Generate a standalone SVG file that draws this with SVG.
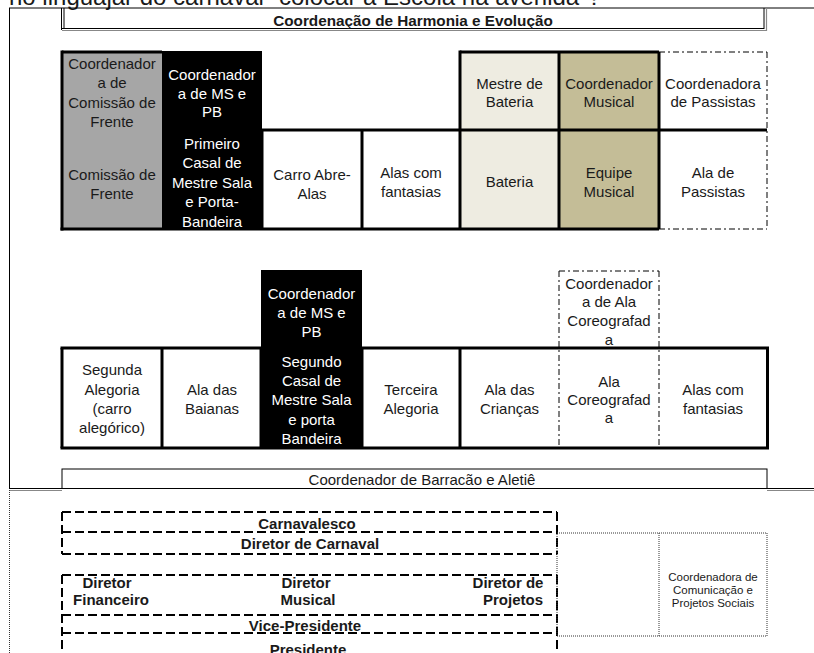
<svg xmlns="http://www.w3.org/2000/svg" width="814" height="653" viewBox="0 0 814 653">
<style>
text{font-family:"Liberation Sans",Arial,sans-serif;font-size:15px;fill:#1a1a1a;text-anchor:middle}
.w{fill:#ffffff}
.b{font-weight:bold}
.s{font-size:11.5px}
.thick{stroke:#000;stroke-width:3;fill:none}
.thin{stroke:#000;stroke-width:1;fill:none}
.dd{stroke:#000;stroke-width:1;fill:none;stroke-dasharray:6 3 2 3}
.dash{stroke:#000;stroke-width:2;fill:none;stroke-dasharray:9 4}
.dot{stroke:#333;stroke-width:1;fill:none;stroke-dasharray:1 1}
.gray{fill:#a6a6a6}
.blk{fill:#000}
.beige{fill:#eeece1}
.tan{fill:#c4bd97}
</style>
<rect width="814" height="653" fill="#fff"/>
<text x="9" y="5" style="font-size:24px;text-anchor:start">no linguajar do carnaval "colocar a Escola na avenida"?</text>

<g id="frame">
<line class="thin" x1="9" y1="8" x2="814" y2="8"/>
<line class="thin" x1="9.5" y1="8" x2="9.5" y2="489"/>
<line class="thin" x1="9" y1="488.5" x2="62" y2="488.5"/>
<line x1="9" y1="490.5" x2="62" y2="490.5" stroke="#888" stroke-width="1"/>
<line class="thin" x1="767" y1="488.5" x2="814" y2="488.5"/>
<line x1="767" y1="490.5" x2="814" y2="490.5" stroke="#888" stroke-width="1"/>
<line class="dot" x1="9.5" y1="490" x2="9.5" y2="653"/>
</g>

<g id="titulo-harmonia">
<line class="thin" x1="61.5" y1="8" x2="61.5" y2="30"/>
<line class="thin" x1="64" y1="8" x2="64" y2="28.5"/>
<line class="thin" x1="62" y1="28.5" x2="764" y2="28.5"/>
<line x1="62" y1="30.5" x2="767" y2="30.5" stroke="#888" stroke-width="1.2"/>
<line class="thin" x1="764" y1="8" x2="764" y2="29"/>
<line x1="766.5" y1="8" x2="766.5" y2="31" stroke="#888" stroke-width="1.2"/>
<text class="b" x="413" y="26" style="font-size:15.3px">Coordenação de Harmonia e Evolução</text>
</g>

<g id="top-fills">
<rect class="gray" x="62" y="52" width="100" height="177"/>
<rect class="blk" x="162" y="51" width="100" height="178"/>
<rect class="beige" x="460" y="52" width="99" height="177"/>
<rect class="tan" x="559" y="52" width="100" height="177"/>
</g>

<g id="coord-comissao">
<text x="112" y="68.5">Coordenador</text>
<text x="112" y="88">a de</text>
<text x="112" y="107.5">Comissão de</text>
<text x="112" y="127">Frente</text>
</g>
<g id="coord-mspb-1">
<text class="w" x="212" y="80">Coordenador</text>
<text class="w" x="212" y="98.5">a de MS e</text>
<text class="w" x="212" y="117">PB</text>
</g>
<g id="mestre-bateria">
<text x="509.5" y="88.5">Mestre de</text>
<text x="509.5" y="107">Bateria</text>
</g>
<g id="coord-musical">
<text x="609" y="88.5">Coordenador</text>
<text x="609" y="107">Musical</text>
</g>
<g id="coord-passistas">
<text x="713" y="88.5">Coordenadora</text>
<text x="713" y="107">de Passistas</text>
</g>
<g id="comissao-frente">
<text x="112" y="180">Comissão de</text>
<text x="112" y="198.5">Frente</text>
</g>
<g id="primeiro-casal">
<text class="w" x="212" y="148.5">Primeiro</text>
<text class="w" x="212" y="168">Casal de</text>
<text class="w" x="212" y="187.5">Mestre Sala</text>
<text class="w" x="212" y="207">e Porta-</text>
<text class="w" x="212" y="226.5">Bandeira</text>
</g>
<g id="carro-abre-alas">
<text x="312" y="180">Carro Abre-</text>
<text x="312" y="198.5">Alas</text>
</g>
<g id="alas-fantasias-1">
<text x="411" y="178">Alas com</text>
<text x="411" y="196.5">fantasias</text>
</g>
<g id="bateria">
<text x="509.5" y="187">Bateria</text>
</g>
<g id="equipe-musical">
<text x="609" y="178">Equipe</text>
<text x="609" y="196.5">Musical</text>
</g>
<g id="ala-passistas">
<text x="713" y="178">Ala de</text>
<text x="713" y="196.5">Passistas</text>
</g>

<g id="top-grid">
<line class="thick" x1="62" y1="50.5" x2="62" y2="230.5"/>
<line class="thick" x1="62" y1="52" x2="162" y2="52"/>
<line class="thick" x1="262" y1="130" x2="767" y2="130"/>
<line class="thick" x1="60.5" y1="229" x2="659" y2="229"/>
<line class="thick" x1="262" y1="130" x2="262" y2="229"/>
<line class="thick" x1="362" y1="130" x2="362" y2="229"/>
<line class="thick" x1="460" y1="50.5" x2="460" y2="229"/>
<line class="thick" x1="559" y1="52" x2="559" y2="229"/>
<line class="thick" x1="659" y1="52" x2="659" y2="229"/>
<line class="thick" x1="460" y1="52" x2="659" y2="52"/>
<line class="dd" x1="659" y1="52" x2="767" y2="52"/>
<line class="dd" x1="767" y1="52" x2="767" y2="229"/>
<line class="dd" x1="659" y1="229" x2="767" y2="229"/>
</g>

<g id="mid-fills">
<rect class="blk" x="261" y="270" width="101" height="178"/>
</g>
<g id="coord-mspb-2">
<text class="w" x="311.5" y="298.5">Coordenador</text>
<text class="w" x="311.5" y="318">a de MS e</text>
<text class="w" x="311.5" y="337">PB</text>
</g>
<g id="coord-ala-coreo">
<text x="609" y="288.5">Coordenador</text>
<text x="609" y="307">a de Ala</text>
<text x="609" y="326">Coreografad</text>
<text x="609" y="345">a</text>
</g>
<g id="segunda-alegoria">
<text x="112" y="375">Segunda</text>
<text x="112" y="395">Alegoria</text>
<text x="112" y="414">(carro</text>
<text x="112" y="433">alegórico)</text>
</g>
<g id="ala-baianas">
<text x="212" y="395">Ala das</text>
<text x="212" y="414">Baianas</text>
</g>
<g id="segundo-casal">
<text class="w" x="311.5" y="366.7">Segundo</text>
<text class="w" x="311.5" y="385.5">Casal de</text>
<text class="w" x="311.5" y="405">Mestre Sala</text>
<text class="w" x="311.5" y="424.5">e porta</text>
<text class="w" x="311.5" y="444">Bandeira</text>
</g>
<g id="terceira-alegoria">
<text x="411" y="395">Terceira</text>
<text x="411" y="413.5">Alegoria</text>
</g>
<g id="ala-criancas">
<text x="509.5" y="395">Ala das</text>
<text x="509.5" y="413.5">Crianças</text>
</g>
<g id="ala-coreo">
<text x="609" y="386.7">Ala</text>
<text x="609" y="405">Coreografad</text>
<text x="609" y="423">a</text>
</g>
<g id="alas-fantasias-2">
<text x="713" y="395">Alas com</text>
<text x="713" y="413.5">fantasias</text>
</g>

<g id="mid-grid">
<line class="thick" x1="60.5" y1="348" x2="769" y2="348"/>
<line class="thick" x1="60.5" y1="448" x2="769" y2="448"/>
<line class="thick" x1="62" y1="348" x2="62" y2="448"/>
<line class="thick" x1="162" y1="348" x2="162" y2="448"/>
<line class="thick" x1="261" y1="348" x2="261" y2="448"/>
<line class="thick" x1="362" y1="348" x2="362" y2="448"/>
<line class="thick" x1="460" y1="348" x2="460" y2="448"/>
<line class="thick" x1="767.5" y1="348" x2="767.5" y2="448"/>
<line class="dd" x1="559" y1="271" x2="659" y2="271"/>
<line class="dd" x1="559" y1="271" x2="559" y2="448"/>
<line class="dd" x1="659" y1="271" x2="659" y2="448"/>
</g>

<g id="coord-barracao">
<rect class="thin" x="62" y="469" width="705" height="19.5"/>
<text x="422" y="485">Coordenador de Barracão e Aletiê</text>
</g>

<g id="diretoria">
<line class="dash" x1="62" y1="512" x2="557" y2="512"/>
<line class="dash" x1="62" y1="532" x2="557" y2="532"/>
<line class="dash" x1="62" y1="554" x2="557" y2="554"/>
<line class="dash" x1="62" y1="575" x2="557" y2="575"/>
<line class="dash" x1="62" y1="615" x2="557" y2="615"/>
<line class="dash" x1="62" y1="633" x2="557" y2="633"/>
<line class="dash" x1="62" y1="512" x2="62" y2="554"/>
<line class="dash" x1="557" y1="512" x2="557" y2="554"/>
<line class="dash" x1="62" y1="575" x2="62" y2="653"/>
<line class="dash" x1="557" y1="575" x2="557" y2="653"/>
</g>
<g id="carnavalesco"><text class="b" x="307" y="528.5">Carnavalesco</text></g>
<g id="diretor-carnaval"><text class="b" x="310" y="548.5">Diretor de Carnaval</text></g>
<g id="diretor-financeiro">
<text class="b" x="107" y="588">Diretor</text>
<text class="b" x="111" y="605">Financeiro</text>
</g>
<g id="diretor-musical">
<text class="b" x="306" y="588">Diretor</text>
<text class="b" x="308" y="605">Musical</text>
</g>
<g id="diretor-projetos">
<text class="b" x="508" y="588">Diretor de</text>
<text class="b" x="513" y="605">Projetos</text>
</g>
<g id="vice-presidente"><text class="b" x="305" y="631">Vice-Presidente</text></g>
<g id="presidente"><text class="b" x="308" y="655">Presidente</text></g>

<g id="coord-comunicacao">
<rect class="dot" x="557" y="533" width="210" height="103"/>
<line class="dot" x1="659" y1="533" x2="659" y2="636"/>
<text class="s" x="713" y="581">Coordenadora de</text>
<text class="s" x="713" y="594">Comunicação e</text>
<text class="s" x="713" y="607">Projetos Sociais</text>
</g>
</svg>
